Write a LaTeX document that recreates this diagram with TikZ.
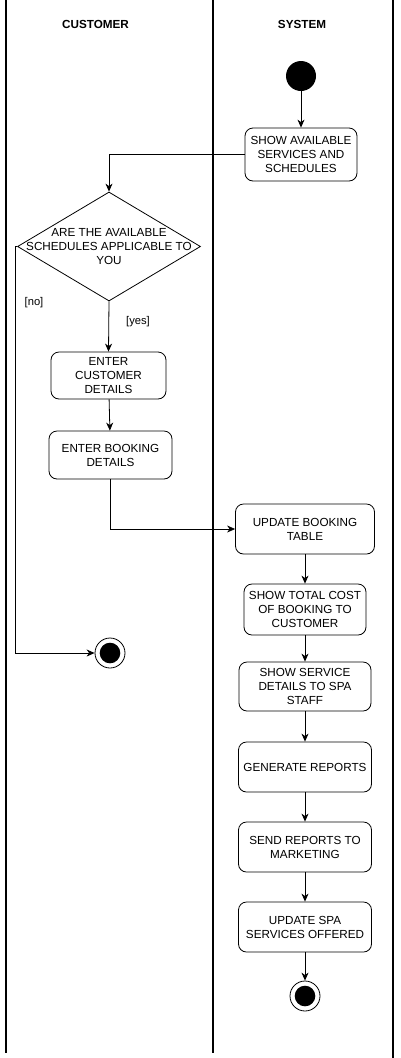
\documentclass[tikz,border=0pt]{standalone}
\usepackage{fontspec}
\setmainfont{Liberation Sans}
\usetikzlibrary{shapes.geometric,arrows.meta,positioning}
\begin{document}
\begin{tikzpicture}[x=1pt,y=-1pt,
  lane/.style={line width=2pt},
  act/.style={draw, rounded corners=8pt, align=center, inner sep=0pt, line width=0.8pt,
    font=\fontsize{11.7}{14}\selectfont},
  flow/.style={line width=0.8pt, -{Stealth[length=8pt,width=7pt,inset=2.5pt]}},
  hdr/.style={font=\fontsize{11.7}{13}\selectfont\bfseries},
  guard/.style={font=\fontsize{11.2}{13}\selectfont, inner sep=0pt}]
\useasboundingbox (0,0) rectangle (400,1058);
% swimlanes
\draw[lane] (6,0) -- (6,1053);
\draw[lane] (213,0) -- (213,1053);
\draw[lane] (393,0) -- (393,1058);
\node[hdr] (hc) at (95.5,24) {CUSTOMER};
\node[hdr] (hs) at (302,24) {SYSTEM};
% start
\node[circle, fill=black, minimum size=30pt, inner sep=0pt] (start) at (301,76) {};
% activities
\node[act, minimum width=112pt, minimum height=53pt] (b1) at (301,154.5) {SHOW AVAILABLE\\SERVICES AND\\SCHEDULES};
\node[diamond, draw, line width=0.8pt, minimum width=183pt, minimum height=109pt, inner sep=0pt] (dec) at (109,246.5) {};
\node[align=center, inner sep=0pt, font=\fontsize{11.7}{14}\selectfont] (dect) at (109,247) {ARE THE AVAILABLE\\SCHEDULES APPLICABLE TO\\YOU};
\node[act, minimum width=115pt, minimum height=47pt] (b2) at (108.5,375.5) {ENTER\\CUSTOMER\\DETAILS};
\node[act, minimum width=123pt, minimum height=48pt] (b3) at (110.5,455) {ENTER BOOKING\\DETAILS};
\node[act, minimum width=139pt, minimum height=50pt] (b4) at (305,529) {UPDATE BOOKING\\TABLE};
\node[act, minimum width=122pt, minimum height=51pt] (b5) at (305,609.5) {SHOW TOTAL COST\\OF BOOKING TO\\CUSTOMER};
\node[act, minimum width=132pt, minimum height=49pt] (b6) at (305,686.5) {SHOW SERVICE\\DETAILS TO SPA\\STAFF};
\node[act, minimum width=133pt, minimum height=50pt] (b7) at (305,767) {GENERATE REPORTS};
\node[act, minimum width=133pt, minimum height=50pt] (b8) at (305,847) {SEND REPORTS TO\\MARKETING};
\node[act, minimum width=133pt, minimum height=50pt] (b9) at (305,927) {UPDATE SPA\\SERVICES OFFERED};
% end nodes
\node[circle, draw, line width=0.8pt, minimum size=30pt, inner sep=0pt] (e1) at (110,653) {};
\fill (e1.center) circle (10.3pt);
\node[circle, draw, line width=0.8pt, minimum size=30pt, inner sep=0pt] (e2) at (305,996) {};
\fill (e2.center) circle (10.3pt);
% guards
\node[guard] (gno) at (34,303) {[no]};
\node[guard] (gyes) at (138,322) {[yes]};
% connectors
\coordinate (n1) at (15,246.5);
\coordinate (n2) at (15,653);
\draw[flow] (start) -- (b1);
\draw[flow] (b1.west) -| (dec.north);
\draw[flow] (dec.south) -- (b2.north);
\draw[flow] (dec.west) -- (n1) -- (n2) -- (e1.west);
\draw[flow] (b2) -- (b3);
\draw[flow] (b3.south) |- (b4.west);
\draw[flow] (b4) -- (b5);
\draw[flow] (b5) -- (b6);
\draw[flow] (b6) -- (b7);
\draw[flow] (b7) -- (b8);
\draw[flow] (b8) -- (b9);
\draw[flow] (b9) -- (e2);
\end{tikzpicture}
\end{document}
